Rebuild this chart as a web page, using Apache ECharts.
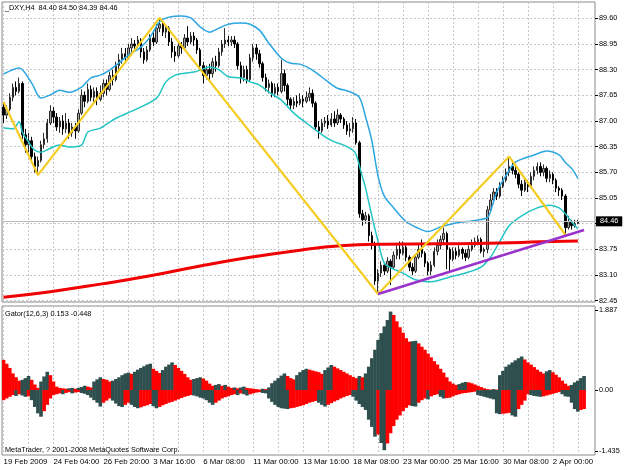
<!DOCTYPE html>
<html>
<head>
<meta charset="utf-8">
<script src="https://cdn.jsdelivr.net/npm/echarts@6/dist/echarts.min.js"></script>
<style>html,body{margin:0;padding:0;background:#fff}#c{width:627px;height:470px}</style>
</head>
<body>
<div id="c"></div>
<script>
// ---------- DATA ----------
const slotCount = 190;
const tickLabels = ['19 Feb 2009','24 Feb 04:00','26 Feb 20:00','3 Mar 16:00','6 Mar 08:00','11 Mar 00:00','13 Mar 16:00','18 Mar 08:00','23 Mar 00:00','25 Mar 16:00','30 Mar 08:00','2 Apr 00:00'];
const labelEvery = 16;
const gridEvery = 8;
const priceMin = 82.45, priceMax = 89.60, priceStep = 0.65;
const gatorTicks = [1.887, 0, -1.435];
const bidPrice = 84.46;

// candles: [open, high, low, close]
const candles = [
[87.35,87.48,86.95,87.15],[87.15,87.40,87.05,87.30],[87.30,87.70,87.25,87.60],[87.60,87.95,87.50,87.85],
[87.85,88.00,87.65,87.75],[87.75,88.10,87.70,87.95],[87.95,88.00,86.55,86.65],[86.65,86.80,86.20,86.40],
[86.40,86.70,86.20,86.50],[86.50,86.60,85.95,86.10],[86.10,86.20,85.70,85.85],[85.85,86.10,85.63,86.00],
[86.00,86.50,85.95,86.40],[86.40,86.70,86.30,86.55],[86.55,87.05,86.45,86.95],[86.95,87.40,86.90,87.25],
[87.25,87.35,86.95,87.10],[87.10,87.20,86.75,86.85],[86.85,87.10,86.70,87.00],[87.00,87.15,86.65,86.80],
[86.80,87.20,86.70,86.95],[86.95,87.05,86.55,86.70],[86.70,86.95,86.60,86.85],[86.85,86.95,86.55,86.75],
[86.75,87.30,86.70,87.20],[87.20,87.80,87.15,87.65],[87.65,87.75,87.35,87.50],[87.50,87.95,87.45,87.80],
[87.80,87.90,87.50,87.60],[87.60,87.85,87.45,87.75],[87.75,87.85,87.40,87.55],[87.55,87.90,87.50,87.70],
[87.70,88.05,87.60,87.95],[87.95,88.05,87.65,87.80],[87.80,88.25,87.75,88.15],[88.15,88.30,87.90,88.05],
[88.05,88.50,88.00,88.40],[88.40,88.70,88.30,88.55],[88.55,88.85,88.45,88.70],[88.70,88.85,88.50,88.60],
[88.60,88.95,88.55,88.85],[88.85,89.10,88.75,88.95],[88.95,89.05,88.80,88.90],[88.90,89.15,88.85,89.05],
[89.05,89.10,88.60,88.75],[88.75,88.85,88.45,88.55],[88.55,88.90,88.50,88.80],[88.80,89.20,88.75,89.10],
[89.10,89.25,88.90,89.00],[89.00,89.45,88.95,89.35],[89.35,89.61,89.25,89.45],[89.45,89.55,89.15,89.25],
[89.25,89.45,89.10,89.35],[89.35,89.40,88.90,89.00],[89.00,89.10,88.60,88.75],[88.75,88.90,88.50,88.65],
[88.65,89.00,88.60,88.90],[88.90,89.00,88.70,88.85],[88.85,89.20,88.80,89.10],[89.10,89.40,88.90,89.00],
[89.00,89.25,88.95,89.15],[89.15,89.25,88.90,89.05],[89.05,89.10,88.70,88.80],[88.80,88.85,88.30,88.40],
[88.40,88.50,87.95,88.15],[88.15,88.40,88.05,88.30],[88.30,88.45,88.00,88.20],[88.20,88.60,88.10,88.50],
[88.50,88.65,88.25,88.40],[88.40,88.85,88.35,88.75],[88.75,89.05,88.65,88.95],[88.95,89.35,88.85,89.05],
[89.05,89.15,88.90,89.00],[89.00,89.15,88.90,89.05],[89.05,89.15,88.85,88.95],[88.95,89.00,88.30,88.40],
[88.40,88.50,87.95,88.10],[88.10,88.40,88.00,88.30],[88.30,88.40,87.95,88.05],[88.05,88.70,88.00,88.60],
[88.60,88.95,88.50,88.85],[88.85,88.95,88.55,88.70],[88.70,88.80,88.35,88.45],[88.45,88.50,88.00,88.10],
[88.10,88.20,87.75,87.85],[87.85,88.05,87.70,87.95],[87.95,88.00,87.60,87.70],[87.70,87.95,87.60,87.85],
[87.85,87.95,87.65,87.75],[87.75,88.55,87.70,88.20],[88.20,88.30,87.75,87.90],[87.90,87.95,87.40,87.55],
[87.55,87.60,87.30,87.40],[87.40,87.60,87.30,87.50],[87.50,87.65,87.35,87.45],[87.45,87.70,87.40,87.55],
[87.55,87.65,87.35,87.50],[87.50,87.75,87.45,87.60],[87.60,87.85,87.50,87.70],[87.70,87.80,87.35,87.45],
[87.45,87.50,86.75,86.85],[86.85,87.00,86.55,86.75],[86.75,87.05,86.70,86.95],[86.95,87.10,86.85,87.00],
[87.00,87.15,86.80,86.90],[86.90,87.20,86.85,87.05],[87.05,87.25,86.85,86.95],[86.95,87.30,86.90,87.15],
[87.15,87.20,86.95,87.05],[87.05,87.10,86.80,86.90],[86.90,87.00,86.65,86.75],[86.75,86.95,86.60,86.80],
[86.80,87.10,86.70,86.95],[86.95,87.05,86.40,86.45],[86.45,86.50,84.55,84.65],[84.65,84.75,84.35,84.50],
[84.50,84.70,84.40,84.60],[84.60,84.65,83.95,84.10],[84.10,84.20,83.75,83.85],[83.85,83.95,82.85,82.95],
[82.95,83.25,82.62,83.15],[83.15,83.45,83.05,83.35],[83.35,83.40,83.10,83.20],[83.20,83.55,83.15,83.45],
[83.45,83.50,82.85,83.30],[83.30,83.70,83.25,83.60],[83.60,83.85,83.50,83.75],[83.75,83.95,83.50,83.65],
[83.65,83.95,83.60,83.80],[83.80,83.85,83.45,83.55],[83.55,83.60,83.20,83.30],[83.30,83.40,83.10,83.20],
[83.20,83.60,83.15,83.55],[83.55,83.90,83.50,83.75],[83.75,84.00,83.55,83.65],[83.65,83.70,83.30,83.40],
[83.40,83.45,83.10,83.20],[83.20,83.45,83.10,83.35],[83.35,83.80,83.30,83.70],[83.70,84.00,83.60,83.85],
[83.85,84.10,83.75,84.00],[84.00,84.30,83.90,84.15],[84.15,84.20,83.25,83.75],[83.75,83.80,83.20,83.50],
[83.50,83.80,83.45,83.70],[83.70,83.80,83.50,83.60],[83.60,83.85,83.55,83.75],[83.75,83.80,83.50,83.65],
[83.65,83.75,83.45,83.55],[83.55,83.85,83.50,83.75],[83.75,84.00,83.70,83.85],[83.85,84.05,83.80,83.95],
[83.95,84.10,83.85,84.00],[84.00,84.05,83.65,83.70],[83.70,83.80,83.55,83.75],[83.75,84.85,83.65,84.75],
[84.75,85.15,84.70,85.00],[85.00,85.30,84.90,85.20],[85.20,85.30,85.00,85.10],[85.10,85.45,85.05,85.35],
[85.35,85.60,85.30,85.50],[85.50,85.80,85.45,85.70],[85.70,86.10,85.60,85.85],[85.85,85.95,85.65,85.75],
[85.75,85.90,85.55,85.65],[85.65,85.70,85.30,85.40],[85.40,85.50,85.10,85.25],[85.25,85.55,85.20,85.45],
[85.45,85.50,85.20,85.35],[85.35,85.70,85.30,85.60],[85.60,85.85,85.50,85.75],[85.75,85.95,85.65,85.85],
[85.85,85.95,85.60,85.70],[85.70,85.90,85.60,85.80],[85.80,85.85,85.45,85.55],[85.55,85.75,85.45,85.65],
[85.65,85.70,85.40,85.50],[85.50,85.55,85.20,85.30],[85.30,85.35,85.10,85.25],[85.25,85.30,85.00,85.10],
[85.10,85.15,84.12,84.30],[84.30,84.60,84.25,84.45],[84.45,84.50,84.25,84.35],[84.35,84.50,84.30,84.40],
[84.40,84.50,84.39,84.46]
];

// Bollinger bands: [barIndex, price]
const upperBand = [[0,88.19],[5,88.34],[9,87.96],[12,87.58],[15,87.66],[18,87.78],[21,87.73],[25,87.86],[28,88.09],[31,88.16],[34,88.29],[37,88.47],[40,88.67],[44,88.87],[47,89.13],[50,89.51],[53,89.63],[57,89.66],[60,89.61],[63,89.38],[66,89.25],[69,89.35],[72,89.45],[76,89.48],[79,89.45],[82,89.30],[85,88.97],[89,88.59],[92,88.46],[95,88.44],[99,88.29],[104,87.99],[107,87.83],[111,87.74],[114,87.60],[116,87.10],[118,86.50],[120,85.60],[122,85.10],[125,84.80],[129,84.45],[133,84.28],[136,84.20],[140,84.32],[145,84.42],[150,84.47],[155,84.55],[156,84.70],[158,85.20],[161,85.62],[164,85.96],[170,86.14],[174,86.24],[178,86.14],[180,85.95],[182,85.80],[184,85.55]];
const lowerBand = [[0,86.82],[3,86.80],[5,86.98],[6,86.72],[8,86.47],[10,86.26],[12,86.21],[15,86.31],[18,86.39],[21,86.34],[25,86.39],[27,86.72],[31,86.82],[36,87.07],[42,87.28],[49,87.58],[52,87.99],[55,88.16],[58,88.21],[61,88.24],[63,88.29],[66,88.37],[69,88.30],[72,88.12],[76,88.09],[79,87.99],[82,87.91],[85,87.73],[89,87.53],[93,87.20],[97,86.95],[100,86.77],[103,86.60],[106,86.47],[109,86.39],[112,86.26],[113,86.14],[115,85.58],[116,85.30],[118,84.60],[120,83.95],[122,83.40],[125,83.25],[128,83.15],[132,82.98],[137,82.93],[143,83.05],[148,83.15],[153,83.30],[156,83.55],[159,83.95],[162,84.35],[166,84.60],[171,84.80],[175,84.87],[178,84.80],[180,84.65],[182,84.45],[184,84.27]];
// long moving average
const movingAvg = [[0,82.54],[15,82.68],[31,82.87],[47,83.08],[63,83.33],[79,83.55],[95,83.73],[108,83.84],[121,83.88],[140,83.89],[159,83.91],[172,83.94],[184,83.96]];
// zigzag pivots
const zigzag = [[0,87.48],[11,85.63],[50,89.61],[120,82.62],[162,86.10],[180,84.12]];
// trend line
const trendLine = [[120,82.62],[186,84.24]];

// Gator oscillator
const gatorUpper = [0.71,0.62,0.52,0.39,0.30,0.22,0.24,0.28,0.33,0.24,0.13,0.05,0.20,0.32,0.43,0.35,0.20,0.08,0.05,0.04,
0.03,0.04,0.05,0.03,0.05,0.07,0.10,0.08,0.06,0.20,0.25,0.30,0.26,0.24,0.20,0.22,0.26,0.30,0.35,0.39,
0.41,0.38,0.43,0.48,0.52,0.56,0.60,0.62,0.50,0.45,0.40,0.47,0.55,0.60,0.65,0.59,0.52,0.45,0.38,0.30,
0.24,0.26,0.28,0.30,0.27,0.22,0.15,0.10,0.12,0.14,0.10,0.12,0.08,0.05,0.06,0.04,0.06,0.08,0.05,0.04,
0.03,0.02,0.01,0.03,0.02,0.06,0.16,0.22,0.28,0.34,0.39,0.33,0.28,0.25,0.35,0.42,0.47,0.50,0.48,0.46,
0.44,0.42,0.38,0.47,0.53,0.59,0.55,0.51,0.47,0.43,0.39,0.35,0.31,0.28,0.33,0.30,0.39,0.55,0.75,0.95,
1.18,1.34,1.50,1.65,1.85,1.77,1.62,1.48,1.35,1.22,1.14,1.15,1.16,1.10,1.02,0.95,0.86,0.77,0.68,0.60,
0.50,0.41,0.30,0.20,0.15,0.12,0.14,0.17,0.19,0.18,0.16,0.13,0.10,0.07,0.04,0.02,0.01,0.02,0.01,0.35,
0.45,0.55,0.60,0.65,0.70,0.75,0.79,0.72,0.65,0.60,0.54,0.48,0.43,0.39,0.44,0.47,0.42,0.36,0.30,0.22,
0.15,0.10,0.12,0.18,0.22,0.28,0.33];
const gatorLower = [-0.24,-0.20,-0.16,-0.12,-0.14,-0.10,-0.13,-0.16,-0.15,-0.24,-0.40,-0.55,-0.63,-0.50,-0.35,-0.20,-0.12,-0.10,-0.08,-0.10,
-0.07,-0.05,-0.08,-0.06,-0.05,-0.07,-0.09,-0.12,-0.18,-0.24,-0.30,-0.39,-0.30,-0.25,-0.20,-0.25,-0.32,-0.38,-0.40,-0.35,
-0.30,-0.35,-0.40,-0.43,-0.41,-0.38,-0.36,-0.33,-0.38,-0.43,-0.40,-0.36,-0.33,-0.30,-0.28,-0.25,-0.22,-0.19,-0.16,-0.14,
-0.12,-0.13,-0.15,-0.18,-0.20,-0.24,-0.30,-0.35,-0.30,-0.25,-0.20,-0.17,-0.15,-0.12,-0.10,-0.12,-0.08,-0.10,-0.13,-0.10,
-0.08,-0.06,-0.05,-0.07,-0.08,-0.20,-0.28,-0.35,-0.40,-0.43,-0.44,-0.45,-0.43,-0.42,-0.40,-0.38,-0.36,-0.33,-0.30,-0.28,
-0.26,-0.30,-0.35,-0.39,-0.35,-0.31,-0.27,-0.24,-0.20,-0.17,-0.14,-0.12,-0.16,-0.25,-0.33,-0.40,-0.47,-0.70,-0.87,-1.10,
-1.05,-1.25,-1.42,-1.26,-1.02,-0.85,-0.70,-0.60,-0.50,-0.42,-0.36,-0.38,-0.39,-0.30,-0.24,-0.20,-0.22,-0.15,-0.12,-0.10,
-0.16,-0.20,-0.19,-0.18,-0.15,-0.12,-0.10,-0.08,-0.07,-0.06,-0.05,-0.04,-0.12,-0.14,-0.16,-0.18,-0.20,-0.22,-0.55,-0.57,
-0.56,-0.55,-0.54,-0.60,-0.63,-0.45,-0.35,-0.25,-0.10,-0.12,-0.14,-0.15,-0.16,-0.15,-0.13,-0.11,-0.09,-0.07,-0.05,-0.10,
-0.15,-0.16,-0.30,-0.45,-0.51,-0.47,-0.448];

// ---------- CHART ----------
const FONT = 'Liberation Sans';
const FS = 7.3;
const FSX = 7.8;
const RED = '#ff0000', DARK = '#2f4f4f';
const cats = Array.from({length: slotCount}, (_, i) => String(i));
function gatorColors(arr) {
  const out = [];
  for (let i = 0; i < arr.length; i++) {
    if (i === 0) { out.push(RED); continue; }
    const a = Math.abs(arr[i]), b = Math.abs(arr[i - 1]);
    out.push(a > b ? DARK : (a < b ? RED : out[i - 1]));
  }
  return out;
}
const upColors = gatorColors(gatorUpper);
const loColors = gatorColors(gatorLower);

const gridLine = {show: true, interval: (i) => i % gridEvery === 0, alignWithLabel: true,
  lineStyle: {color: '#c6c6c6', type: [2, 2], width: 1}};

const chart = echarts.init(document.getElementById('c'), null, {renderer: 'canvas'});
chart.setOption({
  animation: false,
  backgroundColor: '#ffffff',
  textStyle: {fontFamily: FONT, fontSize: FS, color: '#000'},
  grid: [
    {left: 2, right: 32, top: 2, height: 300, show: true, borderColor: '#8a8a8a', borderWidth: 1, backgroundColor: 'transparent'},
    {left: 2, right: 32, top: 18.3, height: 282.4},
    {left: 2, right: 32, top: 306, height: 149, show: true, borderColor: '#8a8a8a', borderWidth: 1, backgroundColor: 'transparent'}
  ],
  xAxis: [
    {gridIndex: 0, type: 'category', data: cats, boundaryGap: true, axisLine: {show: false}, axisTick: {show: false}, axisLabel: {show: false}, splitLine: gridLine},
    {gridIndex: 1, type: 'category', data: cats, boundaryGap: true, show: false},
    {gridIndex: 2, type: 'category', data: cats, boundaryGap: true,
      axisLine: {show: false},
      axisTick: {show: true, interval: (i) => i % labelEvery === 0, alignWithLabel: true, length: 3, lineStyle: {color: '#000'}},
      axisLabel: {interval: (i) => i % labelEvery === 0, formatter: (v, i) => tickLabels[i / labelEvery] || '', align: 'left', margin: 3, color: '#000', fontFamily: FONT, fontSize: FSX},
      splitLine: gridLine}
  ],
  yAxis: [
    {gridIndex: 0, type: 'value', min: 82.4177, max: 90.0127, show: false, splitLine: {show: false}},
    {gridIndex: 1, type: 'value', min: priceMin, max: priceMax, interval: priceStep, position: 'right',
      axisLine: {show: false},
      axisTick: {show: true, length: 3, lineStyle: {color: '#000'}},
      axisLabel: {margin: 4, color: '#000', fontFamily: FONT, fontSize: FS,
        formatter: (v) => Math.abs(v - 84.40) < 0.01 ? '' : v.toFixed(2)},
      splitLine: {show: true, lineStyle: {color: '#c6c6c6', type: [2, 2], width: 1}}},
    {gridIndex: 2, type: 'value', min: -1.533, max: 1.981, position: 'right',
      axisLine: {show: false},
      axisTick: {show: true, length: 3, customValues: gatorTicks, lineStyle: {color: '#000'}},
      axisLabel: {customValues: gatorTicks, margin: 4, color: '#000', fontFamily: FONT, fontSize: FS,
        formatter: (v) => v === 0 ? '0.00' : v.toFixed(3)},
      splitLine: {show: false}}
  ],
  graphic: [
    {type: 'text', left: 5, top: 4, z: 100, style: {text: '_DXY,H4  84.40 84.50 84.39 84.46', font: FS + 'px ' + FONT, fill: '#000'}},
    {type: 'text', left: 5, top: 310, z: 100, style: {text: 'Gator(12,6,3) 0.153 -0.448', font: FS + 'px ' + FONT, fill: '#000'}},
    {type: 'text', left: 5, top: 446, z: 100, style: {text: 'MetaTrader, ? 2001-2008 MetaQuotes Software Corp.', font: FS + 'px ' + FONT, fill: '#000'}}
  ],
  series: [
    {type: 'candlestick', xAxisIndex: 0, yAxisIndex: 0, z: 2,
      data: candles.map(c => [c[0], c[3], c[2], c[1]]),
      barWidth: '62%',
      itemStyle: {color: '#a4a4a4', color0: '#000000', borderColor: '#2a2a2a', borderColor0: '#000000', borderWidth: 1},
      markLine: {silent: true, symbol: 'none', animation: false,
        lineStyle: {color: '#bdbdbd', type: 'solid', width: 1},
        label: {show: true, position: 'end', distance: 1, formatter: bidPrice.toFixed(2), color: '#fff', backgroundColor: '#000', padding: [2, 4, 1, 4], fontFamily: FONT, fontSize: FS},
        data: [{yAxis: bidPrice}]}},
    {type: 'line', name: 'upper', xAxisIndex: 0, yAxisIndex: 0, z: 3, data: upperBand, symbol: 'none', smooth: 0.3,
      lineStyle: {color: '#2ba6e2', width: 1.5}},
    {type: 'line', name: 'lower', xAxisIndex: 0, yAxisIndex: 0, z: 3, data: lowerBand, symbol: 'none', smooth: 0.3,
      lineStyle: {color: '#22c4c4', width: 1.5}},
    {type: 'line', name: 'ma', xAxisIndex: 0, yAxisIndex: 0, z: 4, data: movingAvg, symbol: 'none', smooth: true,
      lineStyle: {color: '#f00000', width: 3}},
    {type: 'line', name: 'zigzag', xAxisIndex: 0, yAxisIndex: 0, z: 5, data: zigzag, symbol: 'none',
      lineStyle: {color: '#f5cc22', width: 2.2}},
    {type: 'line', name: 'trend', xAxisIndex: 0, yAxisIndex: 0, z: 6, data: trendLine, symbol: 'none',
      lineStyle: {color: '#9a33cc', width: 2.5}},
    {type: 'bar', xAxisIndex: 2, yAxisIndex: 2, data: gatorUpper, barWidth: 3.6, barGap: '-100%',
      itemStyle: {color: (p) => upColors[p.dataIndex]}},
    {type: 'bar', xAxisIndex: 2, yAxisIndex: 2, data: gatorLower, barWidth: 3.6, barGap: '-100%',
      itemStyle: {color: (p) => loColors[p.dataIndex]}}
  ]
});
</script>
</body>
</html>
